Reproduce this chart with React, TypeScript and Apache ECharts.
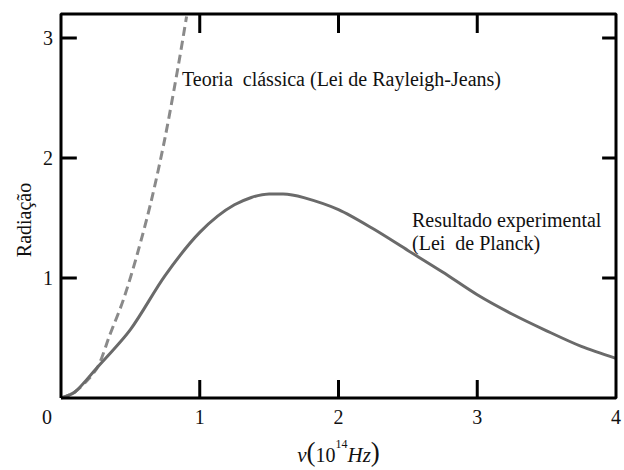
import React, { useEffect, useRef } from "react";
import * as echarts from "echarts";

// Frequency (10^14 Hz) and radiation values
const planckNu = [0, 0.1, 0.25, 0.5, 0.75, 1.0, 1.25, 1.5, 1.6, 1.75, 2.0, 2.25, 2.5, 2.75, 3.0, 3.25, 3.5, 3.75, 4.0];
const planckVal = [0, 0.05, 0.24, 0.57, 1.02, 1.38, 1.61, 1.70, 1.70, 1.67, 1.57, 1.41, 1.23, 1.05, 0.86, 0.70, 0.56, 0.43, 0.33];

const rjNu = [0, 0.1, 0.2, 0.27, 0.35, 0.45, 0.55, 0.65, 0.75, 0.85, 0.905];
const rjVal = [0, 0.05, 0.16, 0.27, 0.52, 0.82, 1.2, 1.64, 2.17, 2.8, 3.18];

const xTicks = ["0", "1", "2", "3", "4"];
const yTicks = ["1", "2", "3"];
const X_MAX = 4;
const Y_MAX = 3.2;
const xTickValues = [1, 2, 3];
const yTickValues = [1, 2, 3];

const labelRJ = "Teoria\u00a0 clássica (Lei de Rayleigh-Jeans)";
const labelPlanck1 = "Resultado experimental";
const labelPlanck2 = "(Lei\u00a0 de Planck)";
const yName = "Radiação";

const FONT = "'Liberation Serif', 'DejaVu Serif', serif";

export default function App() {
  const ref = useRef<HTMLDivElement>(null);
  useEffect(() => {
    if (!ref.current) return;
    const chart = echarts.init(ref.current, null, { renderer: "svg" });
    const planck = planckNu.map((x, i) => [x, planckVal[i]]);
    const rj = rjNu.map((x, i) => [x, rjVal[i]]);

    // tick lengths in axis units (grid: ~140.5 px per x unit, ~120.3 px per y unit)
    const tb = 0.15; // bottom ticks (18px)
    const tt = 0.158; // top ticks (19px)
    const tl = 0.114; // left ticks (16px)
    const tr = 0.1; // right ticks (14px)

    // One continuous frame path with inward tick spikes, following the axes' scales
    const frame: number[][] = [[0, 0]];
    xTickValues.forEach((v) => frame.push([v, 0], [v, tb], [v, 0]));
    frame.push([X_MAX, 0]);
    yTickValues.forEach((v) => frame.push([X_MAX, v], [X_MAX - tr, v], [X_MAX, v]));
    frame.push([X_MAX, Y_MAX]);
    [...xTickValues].reverse().forEach((v) => frame.push([v, Y_MAX], [v, Y_MAX - tt], [v, Y_MAX]));
    frame.push([0, Y_MAX]);
    [...yTickValues].reverse().forEach((v) => frame.push([0, v], [tl, v], [0, v]));
    frame.push([0, 0]);

    chart.setOption({
      animation: false,
      backgroundColor: "#fff",
      grid: { left: 61, right: 1, top: 14, bottom: 71, containLabel: false },
      xAxis: {
        type: "value",
        min: 0,
        max: X_MAX,
        interval: 1,
        axisLine: { show: false },
        axisTick: { show: false },
        splitLine: { show: false },
        axisLabel: {
          margin: 9,
          color: "#111",
          fontFamily: FONT,
          fontSize: 20,
          formatter: (v: number) => (v === 0 ? "" : xTicks[Math.round(v)] ?? ""),
        },
        name: "{i|ν}{p|(}{n|10}{s|14}{i|Hz}{p|)}",
        nameLocation: "middle",
        nameGap: 40,
        nameTextStyle: {
          rich: {
            i: { fontFamily: FONT, fontStyle: "italic", fontSize: 21, color: "#111", verticalAlign: "bottom" },
            n: { fontFamily: FONT, fontSize: 20, color: "#111", verticalAlign: "bottom" },
            p: { fontFamily: FONT, fontSize: 27, color: "#111", verticalAlign: "bottom" },
            s: { fontFamily: FONT, fontSize: 12, color: "#111", verticalAlign: "top", padding: [0, 0, 10, 0] },
          },
        },
      },
      yAxis: {
        type: "value",
        min: 0,
        max: Y_MAX,
        interval: 1,
        axisLine: { show: false },
        axisTick: { show: false },
        splitLine: { show: false },
        axisLabel: {
          margin: 8,
          color: "#111",
          fontFamily: FONT,
          fontSize: 20,
          formatter: (v: number) => (Number.isInteger(v) && v > 0 ? yTicks[v - 1] : ""),
        },
      },
      graphic: [
        {
          type: "text",
          left: 42,
          top: 407,
          style: { text: xTicks[0], font: `20px ${FONT}`, fill: "#111" },
        },
        {
          type: "text",
          x: 24,
          y: 220,
          rotation: Math.PI / 2,
          style: { text: yName, font: `20px ${FONT}`, fill: "#111", align: "center", verticalAlign: "middle" },
        },
        {
          type: "text",
          x: 182,
          y: 79,
          style: { text: labelRJ, font: `20px ${FONT}`, fill: "#111", verticalAlign: "middle" },
        },
        {
          type: "text",
          x: 412,
          y: 220,
          style: { text: labelPlanck1, font: `20px ${FONT}`, fill: "#111", verticalAlign: "middle" },
        },
        {
          type: "text",
          x: 412,
          y: 243,
          style: { text: labelPlanck2, font: `20px ${FONT}`, fill: "#111", verticalAlign: "middle" },
        },
      ],
      series: [
        {
          type: "line",
          data: frame,
          showSymbol: false,
          clip: false,
          silent: true,
          lineStyle: { color: "#000", width: 3, cap: "butt", join: "bevel" },
          z: 5,
        },
        {
          type: "line",
          data: rj,
          smooth: 0.3,
          showSymbol: false,
          lineStyle: { color: "#8a8a8a", width: 3, type: [9, 5] },
          z: 2,
        },
        {
          type: "line",
          data: planck,
          smooth: 0.3,
          showSymbol: false,
          lineStyle: { color: "#6a6a6a", width: 3 },
          z: 3,
        },
      ],
    });
    return () => chart.dispose();
  }, []);
  return (
    <div
      ref={ref}
      style={{ position: "fixed", left: 0, top: 0, width: 624, height: 470 }}
    />
  );
}
